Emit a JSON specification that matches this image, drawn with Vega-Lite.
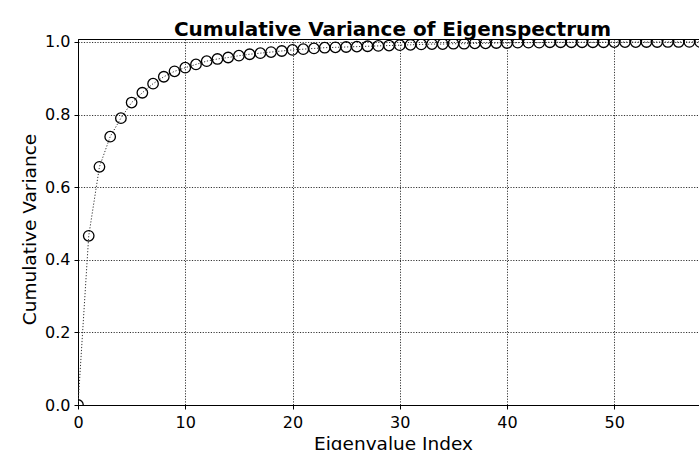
{
  "$schema": "https://vega.github.io/schema/vega-lite/v6.json",
  "autosize": {"type": "none"},
  "padding": {"left": 78, "top": 39, "right": 0, "bottom": 45},
  "width": 621,
  "height": 366,
  "background": "white",
  "title": {
    "text": "Cumulative Variance of Eigenspectrum",
    "font": "DejaVu Sans",
    "fontSize": 20,
    "fontWeight": "bold",
    "color": "black",
    "anchor": "middle",
    "frame": "group",
    "baseline": "alphabetic",
    "offset": 5,
    "dx": 4,
    "dy": 27
  },
  "config": {
    "view": {"stroke": "black", "strokeWidth": 1},
    "axis": {
      "labelFont": "DejaVu Sans",
      "titleFont": "DejaVu Sans",
      "labelFontSize": 16,
      "titleFontSize": 18.5,
      "titleFontWeight": "normal",
      "labelColor": "black",
      "titleColor": "black",
      "domainColor": "black",
      "domainWidth": 1,
      "tickColor": "black",
      "tickSize": 4,
      "tickWidth": 1,
      "grid": true,
      "gridColor": "black",
      "gridDash": [1.2, 1.5],
      "gridWidth": 0.8,
      "gridOpacity": 1
    }
  },
  "data": {
    "values": [
      {"index": 0, "cumvar": 0.0},
      {"index": 1, "cumvar": 0.466},
      {"index": 2, "cumvar": 0.656},
      {"index": 3, "cumvar": 0.739},
      {"index": 4, "cumvar": 0.79},
      {"index": 5, "cumvar": 0.833},
      {"index": 6, "cumvar": 0.86},
      {"index": 7, "cumvar": 0.885},
      {"index": 8, "cumvar": 0.904},
      {"index": 9, "cumvar": 0.919},
      {"index": 10, "cumvar": 0.929},
      {"index": 11, "cumvar": 0.938},
      {"index": 12, "cumvar": 0.947},
      {"index": 13, "cumvar": 0.953},
      {"index": 14, "cumvar": 0.957},
      {"index": 15, "cumvar": 0.962},
      {"index": 16, "cumvar": 0.966},
      {"index": 17, "cumvar": 0.969},
      {"index": 18, "cumvar": 0.972},
      {"index": 19, "cumvar": 0.975},
      {"index": 20, "cumvar": 0.978},
      {"index": 21, "cumvar": 0.98},
      {"index": 22, "cumvar": 0.982},
      {"index": 23, "cumvar": 0.984},
      {"index": 24, "cumvar": 0.985},
      {"index": 25, "cumvar": 0.986},
      {"index": 26, "cumvar": 0.987},
      {"index": 27, "cumvar": 0.988},
      {"index": 28, "cumvar": 0.989},
      {"index": 29, "cumvar": 0.99},
      {"index": 30, "cumvar": 0.991},
      {"index": 31, "cumvar": 0.992},
      {"index": 32, "cumvar": 0.993},
      {"index": 33, "cumvar": 0.994},
      {"index": 34, "cumvar": 0.994},
      {"index": 35, "cumvar": 0.995},
      {"index": 36, "cumvar": 0.995},
      {"index": 37, "cumvar": 0.996},
      {"index": 38, "cumvar": 0.996},
      {"index": 39, "cumvar": 0.997},
      {"index": 40, "cumvar": 0.997},
      {"index": 41, "cumvar": 0.998},
      {"index": 42, "cumvar": 0.998},
      {"index": 43, "cumvar": 0.998},
      {"index": 44, "cumvar": 0.999},
      {"index": 45, "cumvar": 0.999},
      {"index": 46, "cumvar": 0.999},
      {"index": 47, "cumvar": 0.999},
      {"index": 48, "cumvar": 0.999},
      {"index": 49, "cumvar": 0.999},
      {"index": 50, "cumvar": 0.9995},
      {"index": 51, "cumvar": 0.9995},
      {"index": 52, "cumvar": 0.9995},
      {"index": 53, "cumvar": 0.9997},
      {"index": 54, "cumvar": 0.9997},
      {"index": 55, "cumvar": 0.9998},
      {"index": 56, "cumvar": 0.9998},
      {"index": 57, "cumvar": 0.9999},
      {"index": 58, "cumvar": 1.0},
      {"index": 59, "cumvar": 1.0}
    ]
  },
  "encoding": {
    "x": {
      "field": "index",
      "type": "quantitative",
      "scale": {"domain": [0, 57.9], "nice": false, "zero": false},
      "axis": {
        "values": [0, 10, 20, 30, 40, 50],
        "format": "d",
        "title": "Eigenvalue Index",
        "labelPadding": 5,
        "labelFlush": false,
        "titleX": 315,
        "titleY": 44,
        "titleAlign": "center",
        "titleBaseline": "alphabetic"
      }
    },
    "y": {
      "field": "cumvar",
      "type": "quantitative",
      "scale": {"domain": [0, 1.008], "nice": false, "zero": false},
      "axis": {
        "values": [0, 0.2, 0.4, 0.6, 0.8, 1.0],
        "format": ".1f",
        "title": "Cumulative Variance",
        "labelPadding": 4,
        "labelFlush": false,
        "titleX": -43,
        "titleY": 190,
        "titleAngle": 270,
        "titleAlign": "center",
        "titleBaseline": "alphabetic"
      }
    }
  },
  "layer": [
    {
      "mark": {"type": "line", "clip": true, "color": "#333333", "strokeWidth": 1, "strokeDash": [1.2, 1.8]}
    },
    {
      "mark": {"type": "point", "clip": true, "shape": "circle", "filled": false, "stroke": "black", "strokeWidth": 1.3, "size": 110, "opacity": 1}
    }
  ]
}
